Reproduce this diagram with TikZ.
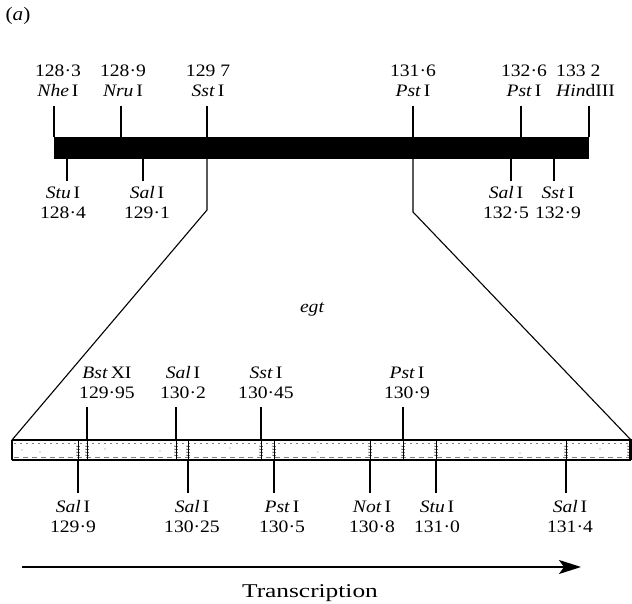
\documentclass[tikz,border=0pt]{standalone}
\usepackage{fontspec}
\setmainfont{Liberation Serif}[FakeStretch=1.12]
\newfontfamily\trfont{Liberation Serif}[FakeStretch=1.3]
\usetikzlibrary{arrows.meta}
\begin{document}
\begin{tikzpicture}[x=1pt,y=-1pt,
  lab/.style={font=\fontsize{17.5}{20}\selectfont, align=center, inner sep=0pt},
  tick/.style={line width=1.2pt},
  sitemark/.style={line width=0.7pt},
  zoomline/.style={line width=1.1pt}]
\useasboundingbox (0,0) rectangle (632,604);

% panel label
\node[font=\fontsize{19}{22}\selectfont, inner sep=0pt] (panel) at (18,16) {(\textit{a})};

% ---------- top map ----------
\node (topbar) [fill=black, inner sep=0pt, minimum width=535pt, minimum height=22pt] at (321.5,148) {};

\foreach \nm/\x in {nhe/54, nru/121, sstA/207, pstA/413, pstB/521, hind/589}{
  \coordinate (\nm-a) at (\x,106);
  \coordinate (\nm-b) at (\x,137);
  \draw[tick] (\nm-a) -- (\nm-b);
}
\foreach \nm/\x in {stu/67, salA/143, salB/511, sstB/554}{
  \coordinate (\nm-a) at (\x,159);
  \coordinate (\nm-b) at (\x,181);
  \draw[tick] (\nm-a) -- (\nm-b);
}

\node[lab] (l-nhe)  at (58,81)  {128·3\\\textit{Nhe}\,I};
\node[lab] (l-nru)  at (123,81) {128·9\\\textit{Nru}\,I};
\node[lab] (l-sstA) at (208,81) {129 7\\\textit{Sst}\,I};
\node[lab] (l-pstA) at (413,81) {131·6\\\textit{Pst}\,I};
\node[lab] (l-pstB) at (524,81) {132·6\\\textit{Pst}\,I};
\node[lab, align=left, anchor=west] (l-hind) at (556,81) {133 2\\\textit{Hin}dIII};

\node[lab] (l-stu)  at (63,203)  {\textit{Stu}\,I\\128·4};
\node[lab] (l-salA) at (147,203) {\textit{Sal}\,I\\129·1};
\node[lab] (l-salB) at (506,203) {\textit{Sal}\,I\\132·5};
\node[lab] (l-sstB) at (558,203) {\textit{Sst}\,I\\132·9};

% ---------- expansion lines ----------
\coordinate (bl) at (12,440);
\coordinate (br) at (631,440);
\coordinate (sstA-k) at (207,210);
\coordinate (pstA-k) at (413,212);
\draw[zoomline] (207,159) -- (sstA-k) -- (bl);
\draw[zoomline] (413,159) -- (pstA-k) -- (br);

\node[font=\fontsize{17.5}{20}\selectfont\itshape, inner sep=0pt] (egt) at (312,309) {egt};

% ---------- bottom (expanded) map ----------
\draw[line width=0.5pt, gray, dash pattern=on 2pt off 4pt] (14,443.5) -- (629,443.5);
\draw[line width=0.6pt, gray, dash pattern=on 5pt off 4pt] (14,457) -- (629,457);
\foreach \px/\py in {22/450, 40/452, 105/449, 160/451, 230/448, 318/452, 470/450, 520/453, 600/449}{
  \fill[gray] (\px,\py) circle (0.7pt);
}
\draw[line width=1.2pt] (bl) -- (br) -- (631,460);
\draw[line width=1.2pt] (bl) -- (12,460);
\draw[line width=1.9pt] (12,460) -- (631,460);

\foreach \x in {78,87,176,188,261,274,370,403,436,566,629}{
  \draw[sitemark] (\x,440) -- (\x,460);
  \foreach \yy in {446,449,452,455}{
    \draw[line width=0.5pt] (\x-1.8,\yy) -- (\x+1.8,\yy+0.8);
  }
}

\foreach \nm/\x in {bst/87, salC/176, sstC/261, pstC/403}{
  \coordinate (\nm-a) at (\x,407);
  \coordinate (\nm-b) at (\x,440);
  \draw[tick] (\nm-a) -- (\nm-b);
}
\foreach \nm/\x in {salD/78, salE/188, pstD/274, notI/370, stuB/436, salF/566}{
  \coordinate (\nm-a) at (\x,460);
  \coordinate (\nm-b) at (\x,493);
  \draw[tick] (\nm-a) -- (\nm-b);
}

\node[lab] (l-bst)  at (107,383) {\textit{Bst}\,XI\\129·95};
\node[lab] (l-salC) at (183,383) {\textit{Sal}\,I\\130·2};
\node[lab] (l-sstC) at (266,383) {\textit{Sst}\,I\\130·45};
\node[lab] (l-pstC) at (407,383) {\textit{Pst}\,I\\130·9};

\node[lab] (l-salD) at (73,517)  {\textit{Sal}\,I\\129·9};
\node[lab] (l-salE) at (192,517) {\textit{Sal}\,I\\130·25};
\node[lab] (l-pstD) at (282,517) {\textit{Pst}\,I\\130·5};
\node[lab] (l-notI) at (372,517) {\textit{Not}\,I\\130·8};
\node[lab] (l-stuB) at (437,517) {\textit{Stu}\,I\\131·0};
\node[lab] (l-salF) at (570,517) {\textit{Sal}\,I\\131·4};

% ---------- transcription arrow ----------
\coordinate (tr-start) at (22,567);
\coordinate (tr-end) at (581,567);
\draw[line width=1.5pt, -{Stealth[length=22pt, width=14pt, inset=5pt]}] (tr-start) -- (tr-end);
\node[font=\trfont\fontsize{19.5}{22}\selectfont, inner sep=0pt, anchor=base] (trans) at (310,597) {Transcription};
\end{tikzpicture}
\end{document}
